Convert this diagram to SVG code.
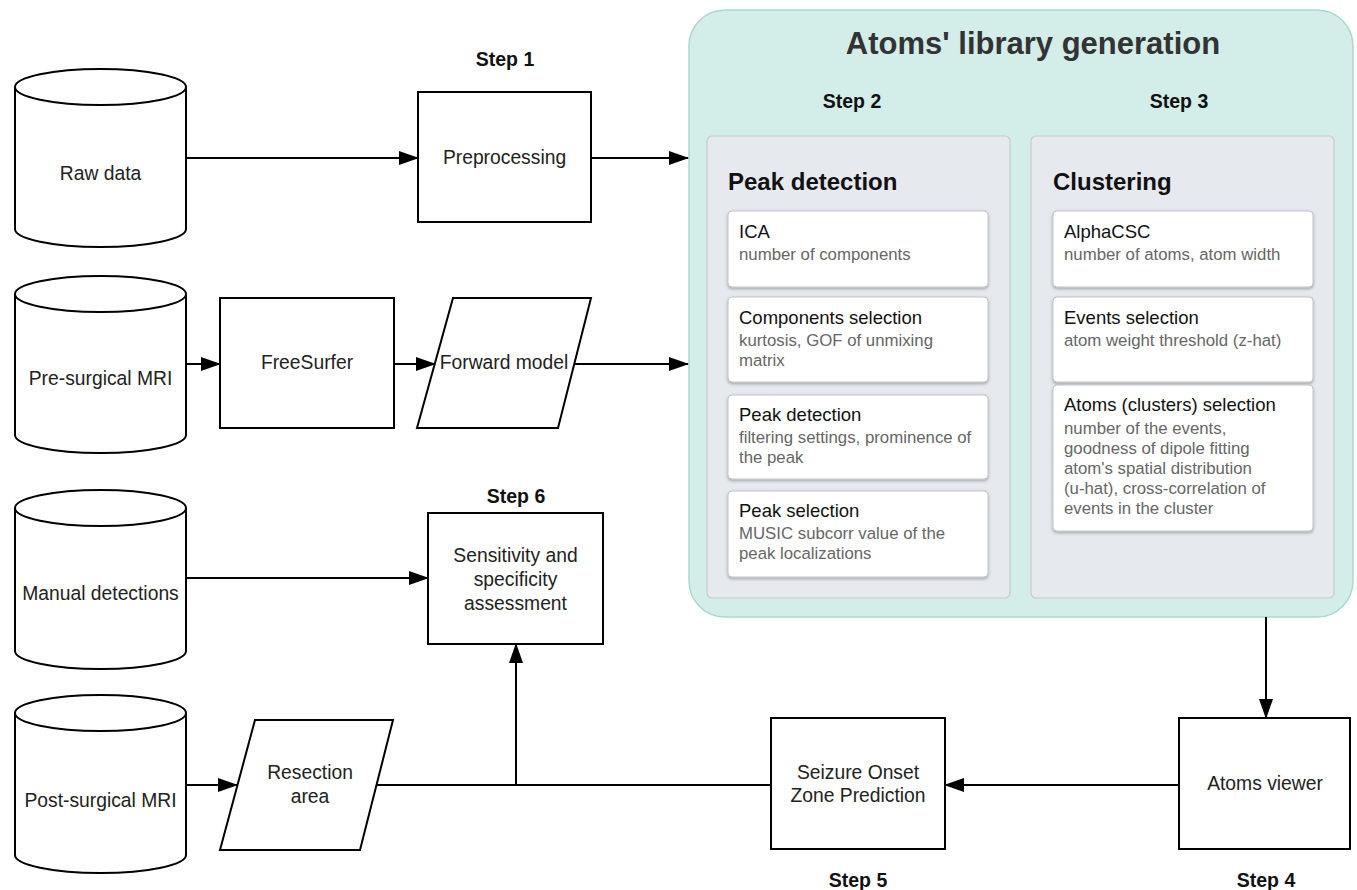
<svg xmlns="http://www.w3.org/2000/svg" width="1357" height="890" viewBox="0 0 1357 890">
<style>
.sh{fill:#fff;stroke:#000;stroke-width:2}
.lbl{font-family:"Liberation Sans",Arial,sans-serif;font-size:19.3px;fill:#222;text-anchor:middle}
.step{font-family:"Liberation Sans",Arial,sans-serif;font-size:19.5px;font-weight:bold;fill:#111;text-anchor:middle}
.ptitle{font-family:"Liberation Sans",Arial,sans-serif;font-size:24px;font-weight:bold;fill:#111}
.ct{font-family:"Liberation Sans",Arial,sans-serif;font-size:18.5px;fill:#111}
.cs{font-family:"Liberation Sans",Arial,sans-serif;font-size:16.8px;fill:#666}
.card{fill:#fff;stroke:#bfc3c8;stroke-width:1;filter:url(#shadow)}
.panel{fill:#e6e9ed;stroke:#c6cacf;stroke-width:1.2}
.conn{fill:none;stroke:#000;stroke-width:2}
</style>
<defs>
<marker id="arr" markerWidth="20" markerHeight="14" refX="19" refY="7" orient="auto" markerUnits="userSpaceOnUse">
<path d="M0,0 L20,7 L0,14 Z" fill="#000"/>
</marker>
<filter id="shadow" x="-10%" y="-10%" width="120%" height="130%">
<feDropShadow dx="0" dy="1.5" stdDeviation="1.5" flood-color="#000" flood-opacity="0.3"/>
</filter>
</defs>
<rect width="1357" height="890" fill="#fff"/>

<g id="container">
<rect x="689" y="10" width="664" height="607" rx="36" fill="#d3ede8" stroke="#a9d8ce" stroke-width="1.5"/>
<text x="1033" y="54" font-family="Liberation Sans, Arial, sans-serif" font-size="31" font-weight="bold" fill="#333" text-anchor="middle">Atoms' library generation</text>
<text class="step" x="852" y="108">Step 2</text>
<text class="step" x="1179" y="108">Step 3</text>
</g>

<g id="panel-peak">
<rect class="panel" x="707" y="136" width="303" height="462" rx="5"/>
<text class="ptitle" x="728" y="190">Peak detection</text>
</g>
<g id="card-ica">
<rect class="card" x="728" y="211" width="260" height="76" rx="4"/>
<text class="ct" x="739" y="238">ICA</text>
<text class="cs" x="739" y="260">number of components</text>
</g>
<g id="card-comp">
<rect class="card" x="728" y="297" width="260" height="85" rx="4"/>
<text class="ct" x="739" y="324">Components selection</text>
<text class="cs" x="739" y="346">kurtosis, GOF of unmixing</text>
<text class="cs" x="739" y="366">matrix</text>
</g>
<g id="card-peakdet">
<rect class="card" x="728" y="395" width="260" height="84" rx="4"/>
<text class="ct" x="739" y="421">Peak detection</text>
<text class="cs" x="739" y="443">filtering settings, prominence of</text>
<text class="cs" x="739" y="463">the peak</text>
</g>
<g id="card-peaksel">
<rect class="card" x="728" y="491" width="260" height="86" rx="4"/>
<text class="ct" x="739" y="517">Peak selection</text>
<text class="cs" x="739" y="539">MUSIC subcorr value of the</text>
<text class="cs" x="739" y="559">peak localizations</text>
</g>

<g id="panel-clust">
<rect class="panel" x="1031" y="136" width="303" height="462" rx="5"/>
<text class="ptitle" x="1053" y="190">Clustering</text>
</g>
<g id="card-alpha">
<rect class="card" x="1053" y="211" width="260" height="76" rx="4"/>
<text class="ct" x="1064" y="238">AlphaCSC</text>
<text class="cs" x="1064" y="260">number of atoms, atom width</text>
</g>
<g id="card-events">
<rect class="card" x="1053" y="297" width="260" height="85" rx="4"/>
<text class="ct" x="1064" y="324">Events selection</text>
<text class="cs" x="1064" y="346">atom weight threshold (z-hat)</text>
</g>
<g id="card-atoms">
<rect class="card" x="1053" y="385" width="260" height="146" rx="4"/>
<text class="ct" x="1064" y="411">Atoms (clusters) selection</text>
<text class="cs" x="1064" y="434">number of the events,</text>
<text class="cs" x="1064" y="454">goodness of dipole fitting</text>
<text class="cs" x="1064" y="474">atom's spatial distribution</text>
<text class="cs" x="1064" y="494">(u-hat), cross-correlation of</text>
<text class="cs" x="1064" y="514">events in the cluster</text>
</g>

<g id="raw-data">
<path class="sh" d="M15,87 L15,229 A85.5,18 0 0 0 186,229 L186,87"/>
<ellipse class="sh" cx="100.5" cy="87" rx="85.5" ry="18"/>
<text class="lbl" x="100.5" y="180">Raw data</text>
</g>
<g id="pre-mri">
<path class="sh" d="M15,294 L15,435 A85.5,18 0 0 0 186,435 L186,294"/>
<ellipse class="sh" cx="100.5" cy="294" rx="85.5" ry="18"/>
<text class="lbl" x="100.5" y="385">Pre-surgical MRI</text>
</g>
<g id="manual">
<path class="sh" d="M15,508 L15,651 A85.5,18 0 0 0 186,651 L186,508"/>
<ellipse class="sh" cx="100.5" cy="508" rx="85.5" ry="18"/>
<text class="lbl" x="100.5" y="600">Manual detections</text>
</g>
<g id="post-mri">
<path class="sh" d="M15,713 L15,855 A85.5,18 0 0 0 186,855 L186,713"/>
<ellipse class="sh" cx="100.5" cy="713" rx="85.5" ry="18"/>
<text class="lbl" x="100.5" y="807">Post-surgical MRI</text>
</g>

<g id="preprocessing">
<text class="step" x="505" y="66">Step 1</text>
<rect class="sh" x="418" y="92" width="173" height="130"/>
<text class="lbl" x="504.5" y="164">Preprocessing</text>
</g>
<g id="freesurfer">
<rect class="sh" x="220" y="298" width="174" height="130"/>
<text class="lbl" x="307" y="369">FreeSurfer</text>
</g>
<g id="forward-model">
<polygon class="sh" points="453,298 591,298 558,428 417,428"/>
<text class="lbl" x="504" y="369">Forward model</text>
</g>
<g id="sensitivity">
<text class="step" x="516" y="503">Step 6</text>
<rect class="sh" x="428" y="513" width="175" height="131"/>
<text class="lbl" x="515.5" y="562">Sensitivity and</text>
<text class="lbl" x="515.5" y="586">specificity</text>
<text class="lbl" x="515.5" y="610">assessment</text>
</g>
<g id="resection">
<polygon class="sh" points="255,720 393,720 360,850 220,850"/>
<text class="lbl" x="310" y="779">Resection</text>
<text class="lbl" x="310" y="803">area</text>
</g>
<g id="seizure">
<rect class="sh" x="771" y="718" width="174" height="131"/>
<text class="lbl" x="858" y="779">Seizure Onset</text>
<text class="lbl" x="858" y="802">Zone Prediction</text>
<text class="step" x="858" y="887">Step 5</text>
</g>
<g id="atoms-viewer">
<rect class="sh" x="1179" y="718" width="171" height="131"/>
<text class="lbl" x="1265" y="790">Atoms viewer</text>
<text class="step" x="1266" y="887">Step 4</text>
</g>

<g id="connectors">
<line class="conn" x1="186" y1="158" x2="418" y2="158" marker-end="url(#arr)"/>
<line class="conn" x1="591" y1="158" x2="688" y2="158" marker-end="url(#arr)"/>
<line class="conn" x1="186" y1="364" x2="220" y2="364" marker-end="url(#arr)"/>
<line class="conn" x1="394" y1="364" x2="435" y2="364" marker-end="url(#arr)"/>
<line class="conn" x1="575" y1="364" x2="688" y2="364" marker-end="url(#arr)"/>
<line class="conn" x1="186" y1="578" x2="428" y2="578" marker-end="url(#arr)"/>
<line class="conn" x1="186" y1="785" x2="237" y2="785" marker-end="url(#arr)"/>
<line class="conn" x1="1266" y1="617" x2="1266" y2="718" marker-end="url(#arr)"/>
<line class="conn" x1="1179" y1="785" x2="945" y2="785" marker-end="url(#arr)"/>
<line class="conn" x1="377" y1="785" x2="771" y2="785"/>
<polyline class="conn" points="516,785 516,644" marker-end="url(#arr)"/>
</g>
</svg>
